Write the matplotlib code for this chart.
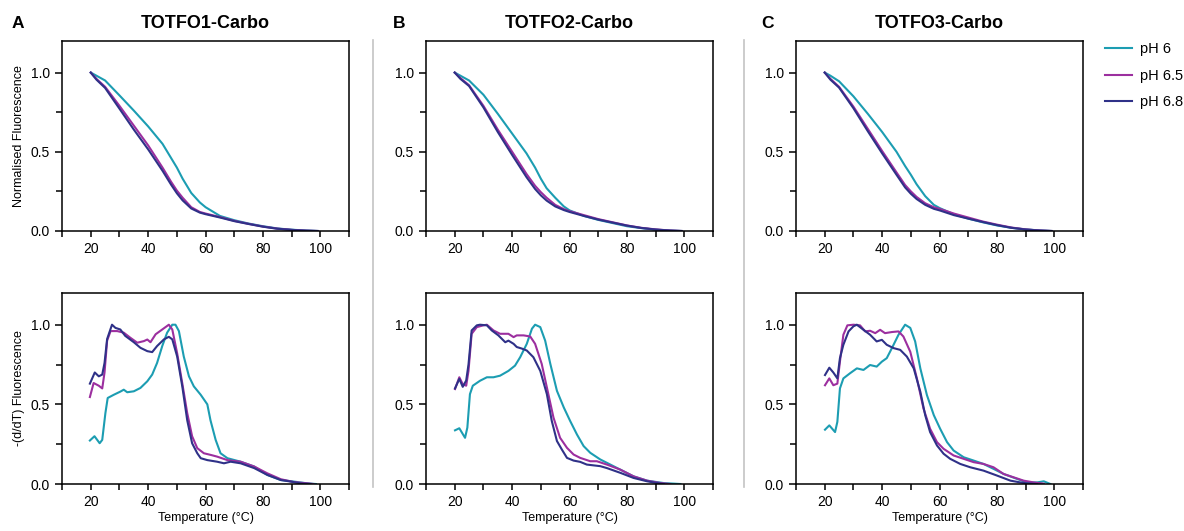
import matplotlib
matplotlib.use("Agg")
import matplotlib.pyplot as plt
from matplotlib.lines import Line2D
from matplotlib.ticker import MultipleLocator

plt.rcParams['font.family'] = ['Liberation Sans', 'DejaVu Sans']

# ---------- data ----------
titles = ["TOTFO1-Carbo", "TOTFO2-Carbo", "TOTFO3-Carbo"]
letters = ["A", "B", "C"]
labels = ["pH 6", "pH 6.5", "pH 6.8"]
colors = ["#1c9db2", "#9c2f9f", "#2f3188"]

# normalised fluorescence (melt curves)
temp_top = [20, 22, 25, 30, 35, 40, 45, 48, 50, 52, 55, 58, 60, 65, 70, 75, 80, 85, 90, 95, 99]

a_ph6 = [1.0, 0.98, 0.95, 0.856, 0.76, 0.66, 0.55, 0.46, 0.40, 0.33, 0.24, 0.18, 0.15, 0.095, 0.068, 0.047, 0.03, 0.016, 0.008, 0.003, 0.0]
a_ph65 = [1.0, 0.96, 0.91, 0.79, 0.665, 0.54, 0.40, 0.31, 0.255, 0.21, 0.15, 0.12, 0.11, 0.088, 0.064, 0.045, 0.028, 0.015, 0.007, 0.002, 0.0]
a_ph68 = [1.0, 0.955, 0.903, 0.772, 0.64, 0.515, 0.38, 0.292, 0.238, 0.193, 0.142, 0.116, 0.106, 0.085, 0.062, 0.044, 0.027, 0.014, 0.007, 0.002, 0.0]

b_ph6 = [1.0, 0.98, 0.95, 0.86, 0.74, 0.615, 0.49, 0.40, 0.33, 0.27, 0.21, 0.155, 0.13, 0.095, 0.07, 0.05, 0.03, 0.018, 0.008, 0.002, 0.0]
b_ph65 = [1.0, 0.965, 0.92, 0.79, 0.64, 0.50, 0.36, 0.285, 0.245, 0.21, 0.165, 0.138, 0.125, 0.10, 0.075, 0.055, 0.035, 0.02, 0.01, 0.003, 0.0]
b_ph68 = [1.0, 0.96, 0.915, 0.78, 0.625, 0.48, 0.34, 0.265, 0.225, 0.192, 0.155, 0.132, 0.12, 0.095, 0.072, 0.053, 0.034, 0.019, 0.009, 0.003, 0.0]

c_ph6 = [1.0, 0.98, 0.945, 0.85, 0.74, 0.625, 0.50, 0.41, 0.355, 0.295, 0.22, 0.165, 0.145, 0.105, 0.078, 0.055, 0.035, 0.02, 0.01, 0.003, 0.0]
c_ph65 = [1.0, 0.96, 0.91, 0.785, 0.645, 0.505, 0.37, 0.29, 0.25, 0.215, 0.175, 0.15, 0.14, 0.11, 0.085, 0.06, 0.04, 0.022, 0.01, 0.003, 0.0]
c_ph68 = [1.0, 0.955, 0.905, 0.775, 0.63, 0.49, 0.355, 0.275, 0.235, 0.202, 0.165, 0.14, 0.13, 0.10, 0.078, 0.057, 0.037, 0.02, 0.009, 0.003, 0.0]

# -(d/dT) fluorescence, normalised
da_t6 = [19.7, 21.3, 23.1, 24.0, 25.1, 25.9, 28.0, 30.3, 31.5, 32.7, 35.0, 37.3, 39.7, 41.4, 43.1, 44.9, 46.6, 48.4, 49.5, 50.7, 52.4, 54.2, 55.9, 58.3, 60.6, 61.7, 63.5, 65.2, 67.6, 72.2, 76.9, 81.5, 86.2, 90.8, 95.5, 98.4]
da_v6 = [0.273, 0.30, 0.256, 0.277, 0.445, 0.54, 0.56, 0.58, 0.592, 0.576, 0.582, 0.603, 0.645, 0.687, 0.76, 0.866, 0.95, 1.0, 1.0, 0.96, 0.80, 0.676, 0.613, 0.56, 0.50, 0.40, 0.277, 0.193, 0.162, 0.14, 0.11, 0.057, 0.025, 0.015, 0.004, 0.0]
da_t65 = [19.7, 21.0, 22.8, 24.0, 24.8, 25.7, 26.9, 29.2, 31.5, 33.8, 36.2, 38.5, 39.7, 40.8, 42.6, 44.9, 47.2, 48.4, 50.1, 51.9, 53.6, 55.3, 57.1, 59.4, 61.7, 64.0, 67.6, 72.2, 76.9, 81.5, 86.2, 90.8, 95.5, 97.5]
da_v65 = [0.546, 0.634, 0.617, 0.60, 0.70, 0.90, 0.96, 0.96, 0.95, 0.918, 0.887, 0.897, 0.907, 0.89, 0.94, 0.97, 1.0, 0.97, 0.82, 0.63, 0.445, 0.30, 0.225, 0.193, 0.183, 0.172, 0.15, 0.14, 0.11, 0.067, 0.03, 0.012, 0.004, 0.0]
da_t68 = [19.7, 21.4, 22.8, 24.0, 24.8, 25.7, 27.4, 28.6, 30.3, 32.0, 35.0, 37.3, 39.7, 41.4, 43.1, 45.5, 47.2, 48.4, 50.1, 51.9, 53.6, 55.3, 57.1, 58.3, 60.6, 64.0, 66.4, 68.7, 72.2, 76.9, 81.5, 86.2, 89.7, 93.1, 96.6]
da_v68 = [0.63, 0.70, 0.676, 0.687, 0.76, 0.91, 1.0, 0.98, 0.97, 0.93, 0.89, 0.855, 0.834, 0.828, 0.866, 0.908, 0.924, 0.908, 0.80, 0.61, 0.40, 0.256, 0.193, 0.162, 0.15, 0.14, 0.13, 0.14, 0.13, 0.10, 0.057, 0.025, 0.015, 0.004, 0.0]

db_t6 = [20.1, 21.6, 23.6, 24.4, 25.3, 26.3, 28.8, 31.2, 33.5, 35.8, 38.7, 41.0, 42.8, 45.1, 46.9, 48.0, 49.8, 51.5, 53.3, 55.6, 58.0, 60.2, 62.6, 64.9, 67.2, 70.7, 74.2, 77.7, 82.3, 87.0, 92.8, 98.6]
db_v6 = [0.337, 0.35, 0.29, 0.354, 0.564, 0.617, 0.648, 0.67, 0.67, 0.68, 0.71, 0.743, 0.796, 0.88, 0.975, 1.0, 0.985, 0.90, 0.754, 0.585, 0.48, 0.396, 0.31, 0.238, 0.196, 0.154, 0.122, 0.09, 0.048, 0.021, 0.006, 0.0]
db_t65 = [20.1, 21.6, 22.8, 24.0, 24.8, 25.9, 27.7, 30.0, 31.2, 33.5, 35.8, 38.7, 40.5, 41.6, 44.0, 46.3, 48.0, 50.3, 52.1, 54.4, 56.7, 59.1, 61.4, 63.7, 67.2, 69.5, 73.0, 77.7, 82.3, 87.0, 91.6, 95.0]
db_v65 = [0.596, 0.67, 0.627, 0.617, 0.71, 0.943, 0.985, 0.996, 1.0, 0.964, 0.943, 0.943, 0.922, 0.933, 0.933, 0.926, 0.88, 0.754, 0.606, 0.417, 0.29, 0.227, 0.185, 0.164, 0.143, 0.143, 0.122, 0.09, 0.048, 0.021, 0.006, 0.0]
db_t68 = [20.1, 21.6, 22.8, 24.0, 24.8, 25.9, 27.7, 28.8, 31.2, 32.9, 35.2, 37.6, 38.7, 40.5, 41.6, 43.4, 45.1, 47.4, 49.8, 52.1, 53.8, 55.6, 57.3, 59.1, 61.4, 63.7, 66.0, 70.7, 73.0, 77.7, 82.3, 87.0, 90.5, 92.8]
db_v68 = [0.60, 0.66, 0.61, 0.65, 0.75, 0.964, 0.996, 1.0, 0.996, 0.964, 0.933, 0.89, 0.90, 0.88, 0.86, 0.85, 0.838, 0.796, 0.71, 0.564, 0.396, 0.27, 0.217, 0.164, 0.147, 0.139, 0.122, 0.112, 0.10, 0.07, 0.038, 0.017, 0.006, 0.0]

dc_t6 = [20.1, 21.6, 23.6, 24.4, 25.3, 26.5, 28.8, 31.2, 33.5, 35.8, 38.1, 39.9, 41.6, 43.4, 45.7, 48.0, 49.8, 51.5, 53.3, 55.6, 58.0, 60.2, 62.6, 64.9, 68.4, 71.9, 75.3, 78.8, 82.3, 87.0, 90.5, 94.0, 96.3, 98.6]
dc_v6 = [0.341, 0.368, 0.326, 0.39, 0.60, 0.663, 0.695, 0.726, 0.716, 0.747, 0.737, 0.768, 0.79, 0.853, 0.937, 1.0, 0.98, 0.895, 0.726, 0.558, 0.432, 0.347, 0.263, 0.21, 0.168, 0.147, 0.126, 0.095, 0.063, 0.032, 0.01, 0.01, 0.017, 0.0]
dc_t65 = [20.1, 21.6, 23.0, 24.4, 25.3, 26.5, 27.9, 30.0, 32.3, 34.1, 35.8, 37.6, 39.3, 41.0, 43.4, 45.7, 47.4, 49.8, 52.1, 54.4, 56.7, 59.1, 61.4, 64.9, 68.4, 71.9, 75.3, 78.8, 82.3, 85.8, 89.3, 92.8, 96.3]
dc_v65 = [0.62, 0.663, 0.62, 0.63, 0.768, 0.937, 0.996, 1.0, 0.996, 0.958, 0.962, 0.947, 0.968, 0.947, 0.954, 0.958, 0.926, 0.83, 0.663, 0.474, 0.347, 0.263, 0.221, 0.179, 0.158, 0.137, 0.126, 0.105, 0.063, 0.042, 0.021, 0.01, 0.002]
dc_t68 = [20.1, 21.6, 23.0, 24.4, 25.3, 26.5, 28.3, 30.0, 31.2, 33.5, 35.8, 38.1, 39.9, 41.6, 44.0, 46.3, 48.6, 51.0, 53.3, 55.0, 56.7, 59.1, 61.4, 63.7, 67.2, 70.7, 75.3, 80.0, 84.7, 88.1, 90.5, 94.0]
dc_v68 = [0.684, 0.73, 0.70, 0.663, 0.79, 0.874, 0.958, 0.99, 1.0, 0.968, 0.937, 0.895, 0.905, 0.874, 0.853, 0.842, 0.80, 0.726, 0.579, 0.432, 0.326, 0.242, 0.19, 0.158, 0.126, 0.105, 0.084, 0.053, 0.021, 0.01, 0.004, 0.0]

top_series = [(a_ph6, a_ph65, a_ph68), (b_ph6, b_ph65, b_ph68), (c_ph6, c_ph65, c_ph68)]
deriv_series = [
    ((da_t6, da_v6), (da_t65, da_v65), (da_t68, da_v68)),
    ((db_t6, db_v6), (db_t65, db_v65), (db_t68, db_v68)),
    ((dc_t6, dc_v6), (dc_t65, dc_v65), (dc_t68, dc_v68)),
]

# ---------- figure ----------
fig = plt.figure(figsize=(11.84, 5.31), dpi=100)

lefts = [0.0524, 0.3598, 0.6723]
width = 0.2425
top_bottom, top_h = 0.565, 0.358
bot_bottom, bot_h = 0.0885, 0.36


def style_axis(ax):
    ax.set_xlim(10, 110)
    ax.set_ylim(0, 1.2)
    ax.set_xticks([20, 40, 60, 80, 100])
    ax.xaxis.set_minor_locator(MultipleLocator(10))
    ax.set_yticks([0.0, 0.5, 1.0])
    ax.set_yticklabels(["0.0", "0.5", "1.0"])
    ax.yaxis.set_minor_locator(MultipleLocator(0.25))
    ax.tick_params(which="both", direction="out", width=1.1, length=4.5, labelsize=10, color="black")
    ax.tick_params(axis="y", which="major", length=5)
    for sp in ax.spines.values():
        sp.set_linewidth(1.1)


for i in range(3):
    ax = fig.add_axes([lefts[i], top_bottom, width, top_h])
    for vals, col in zip(top_series[i], colors):
        ax.plot(temp_top, vals, color=col, lw=1.5)
    style_axis(ax)
    ax.set_title(titles[i], fontsize=13, fontweight="bold", pad=9)
    if i == 0:
        ax.set_ylabel("Normalised Fluorescence", fontsize=9)

    ax2 = fig.add_axes([lefts[i], bot_bottom, width, bot_h])
    for (t, v), col in zip(deriv_series[i], colors):
        ax2.plot(t, v, color=col, lw=1.5)
    style_axis(ax2)
    ax2.set_xlabel("Temperature (\u00b0C)", fontsize=9, labelpad=2)
    if i == 0:
        ax2.set_ylabel("-(d/dT) Fluorescence", fontsize=9)

# panel letters
for x, letter in zip([0.010, 0.332, 0.643], letters):
    fig.text(x, 0.947, letter, fontsize=12.5, fontweight="bold", va="baseline")

# separators between panels
for x in [0.315, 0.6285]:
    fig.add_artist(Line2D([x, x], [0.083, 0.925], transform=fig.transFigure,
                          color="#c4c4c4", lw=1.2))

# legend
handles = [Line2D([], [], color=c, lw=1.5) for c in colors]
fig.legend(handles, labels, loc="upper left", bbox_to_anchor=(0.922, 0.945),
           frameon=False, fontsize=10.5, handlelength=1.9, handletextpad=0.5,
           labelspacing=0.85)

fig.savefig("out.png", dpi=100)
